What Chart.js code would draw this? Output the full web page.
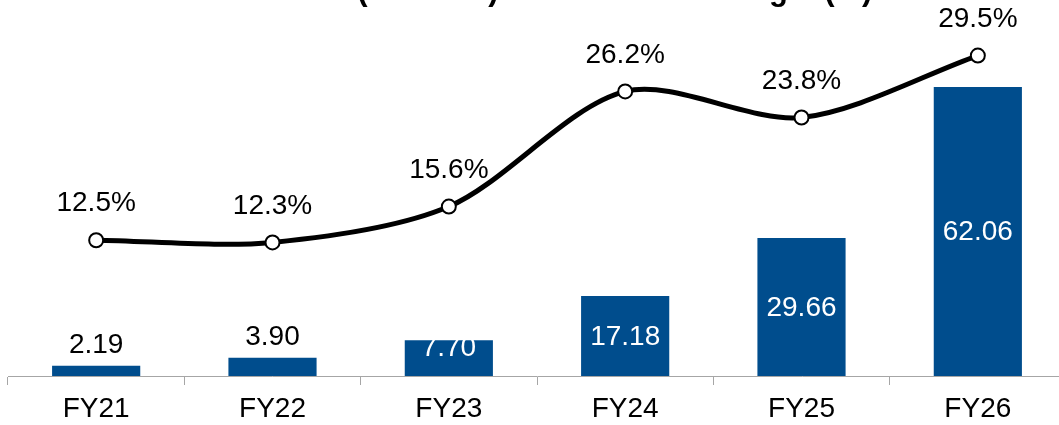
<!DOCTYPE html>
<html>
<head>
<meta charset="utf-8">
<title>Net Income & Margin</title>
<script src="https://cdn.jsdelivr.net/npm/chart.js@4.4.1/dist/chart.umd.min.js"></script>
<style>
  html, body { margin: 0; padding: 0; background: #fff; overflow: hidden; }
  #chart { position: absolute; left: 0; top: 0; display: block; }
</style>
</head>
<body>
<canvas id="chart" width="1066" height="425"></canvas>
<script>
// ============ Data ============
const categories = ['FY21', 'FY22', 'FY23', 'FY24', 'FY25', 'FY26'];
const netIncome = [2.19, 3.90, 7.70, 17.18, 29.66, 62.06];
const marginPct = [12.5, 12.3, 15.6, 26.2, 23.8, 29.5];
const titleText = 'Net Income (USD mn) & Net Income Margin (%)';

const FONT = '"Liberation Sans", Arial, sans-serif';
const BAR_COLOR = '#004d8d';
const AXIS_COLOR = '#a6a6a6';

// title sits mostly above the canvas, only its lower part shows
const titlePlugin = {
  id: 'cutTitle',
  afterDraw(chart) {
    const ctx = chart.ctx;
    ctx.save();
    ctx.font = 'bold 31px ' + FONT;
    ctx.fillStyle = '#000';
    ctx.textAlign = 'center';
    ctx.textBaseline = 'alphabetic';
    ctx.fillText(titleText, 527, 0);
    ctx.restore();
  }
};

// value labels for bars and line points
const valueLabels = {
  id: 'valueLabels',
  afterDatasetsDraw(chart) {
    const ctx = chart.ctx;
    ctx.save();
    ctx.font = '28px ' + FONT;
    ctx.textAlign = 'center';
    ctx.textBaseline = 'middle';

    const barMeta = chart.getDatasetMeta(1);
    barMeta.data.forEach((bar, i) => {
      const h = bar.base - bar.y;
      const txt = netIncome[i].toFixed(2);
      if (h < 25) {
        // small bars: label above, dark
        ctx.fillStyle = '#000';
        ctx.fillText(txt, bar.x, bar.y - 20.5);
      } else if (h < 45) {
        ctx.fillStyle = '#fff';
        ctx.fillText(txt, bar.x, bar.y + 8);
      } else {
        ctx.fillStyle = '#fff';
        ctx.fillText(txt, bar.x, (bar.y + bar.base) / 2 + 1);
      }
    });

    const lineMeta = chart.getDatasetMeta(0);
    ctx.fillStyle = '#000';
    lineMeta.data.forEach((pt, i) => {
      ctx.fillText(marginPct[i].toFixed(1) + '%', pt.x, pt.y - 36.5);
    });
    ctx.restore();
  }
};

const ctx = document.getElementById('chart').getContext('2d');
const chart = new Chart(ctx, {
  data: {
    labels: categories,
    datasets: [
      {
        type: 'line',
        label: 'Net Income Margin (%)',
        data: marginPct,
        yAxisID: 'y2',
        order: 0,
        borderColor: '#000',
        borderWidth: 5,
        tension: 0.3,
        pointRadius: 7,
        pointBorderWidth: 2,
        pointBackgroundColor: '#fff',
        pointBorderColor: '#000',
        clip: false,
      },
      {
        type: 'bar',
        label: 'Net Income (USD mn)',
        data: netIncome,
        yAxisID: 'y',
        order: 1,
        backgroundColor: BAR_COLOR,
        borderWidth: 0,
        categoryPercentage: 1,
        barPercentage: 0.5,
      },
    ],
  },
  options: {
    responsive: false,
    animation: false,
    devicePixelRatio: 1,
    layout: { autoPadding: false, padding: { left: 8, right: 0, top: 0, bottom: 0 } },
    plugins: {
      legend: { display: false },
      title: { display: false },
      tooltip: { enabled: false },
    },
    scales: {
      x: {
        offset: true,
        grid: { display: true, drawOnChartArea: false, drawTicks: true, tickLength: 9, color: AXIS_COLOR, offset: true },
        border: { display: true, color: AXIS_COLOR, width: 1 },
        ticks: { color: '#000', font: { family: FONT, size: 28 }, padding: 7, maxRotation: 0, autoSkip: false },
        afterFit: s => { s.height = 49; },
      },
      y: { display: false, min: 0, max: 80.74 },
      y2: { display: false, min: 0, max: 34.62 },
    },
  },
  plugins: [titlePlugin, valueLabels],
});
</script>
</body>
</html>
